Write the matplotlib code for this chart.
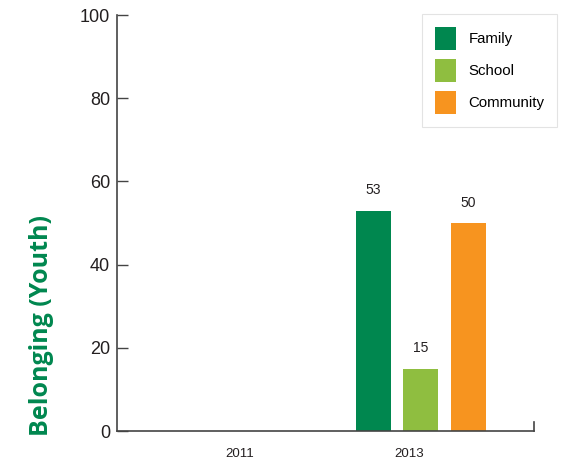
import matplotlib
matplotlib.use("Agg")
import matplotlib.pyplot as plt
from matplotlib.patches import Patch

years = ["2011", "2013"]
series = ["Family", "School", "Community"]
values_2013 = [53, 15, 50]
colors = ["#00874f", "#8fbe40", "#f7941f"]
y_ticks = [0, 20, 40, 60, 80, 100]

plt.rcParams["font.family"] = ["Liberation Sans", "DejaVu Sans"]

fig = plt.figure(figsize=(5.75, 4.63), dpi=100)
ax = fig.add_axes([117 / 575, 32 / 463, 417 / 575, 416 / 463])

x_pos = [0, 1]
bar_w = 0.207
offsets = [-0.21, 0.071, 0.352]
for off, val, col in zip(offsets, values_2013, colors):
    ax.bar(x_pos[1] + off, val, width=bar_w, color=col, align="center", zorder=2)
    ax.text(x_pos[1] + off, val + 3.2, str(val), ha="center", va="bottom",
            fontsize=10, color="#231f20")

ax.set_xlim(-0.728, 1.74)
ax.set_ylim(0, 100)
ax.set_yticks(y_ticks)
ax.set_yticklabels([str(t) for t in y_ticks], fontsize=13, color="#231f20")
ax.tick_params(axis="y", direction="in", length=8, width=1, color="#444444", pad=5)
ax.set_xticks(x_pos)
ax.set_xticklabels(years, fontsize=9.5, color="#231f20")
ax.tick_params(axis="x", length=0, pad=12)

for side in ("top", "right"):
    ax.spines[side].set_visible(False)
for side in ("left", "bottom"):
    ax.spines[side].set_color("#444444")
    ax.spines[side].set_linewidth(1.2)
ax.plot([1, 1], [0, 0.022], transform=ax.transAxes, color="#444444",
        lw=1.2, clip_on=False)

fig.text(42 / 575, 27 / 463, "Belonging (Youth)", rotation=90, ha="center",
         va="bottom", fontsize=18, fontweight="bold", color="#00874f",
         family=["Open Sans", "DejaVu Sans"])

handles = [Patch(facecolor=c, edgecolor="none") for c in colors]
leg = ax.legend(handles, series, loc="upper right",
                bbox_to_anchor=(557 / 575, 449 / 463), bbox_transform=fig.transFigure,
                fontsize=10.8, frameon=True, fancybox=False, handlelength=1.45,
                handleheight=2.0, handletextpad=0.8, labelspacing=0.6,
                borderpad=0.85, borderaxespad=0)
leg.get_frame().set_edgecolor("#dddddd")
leg.get_frame().set_linewidth(0.8)

fig.savefig("out.png", dpi=100)
